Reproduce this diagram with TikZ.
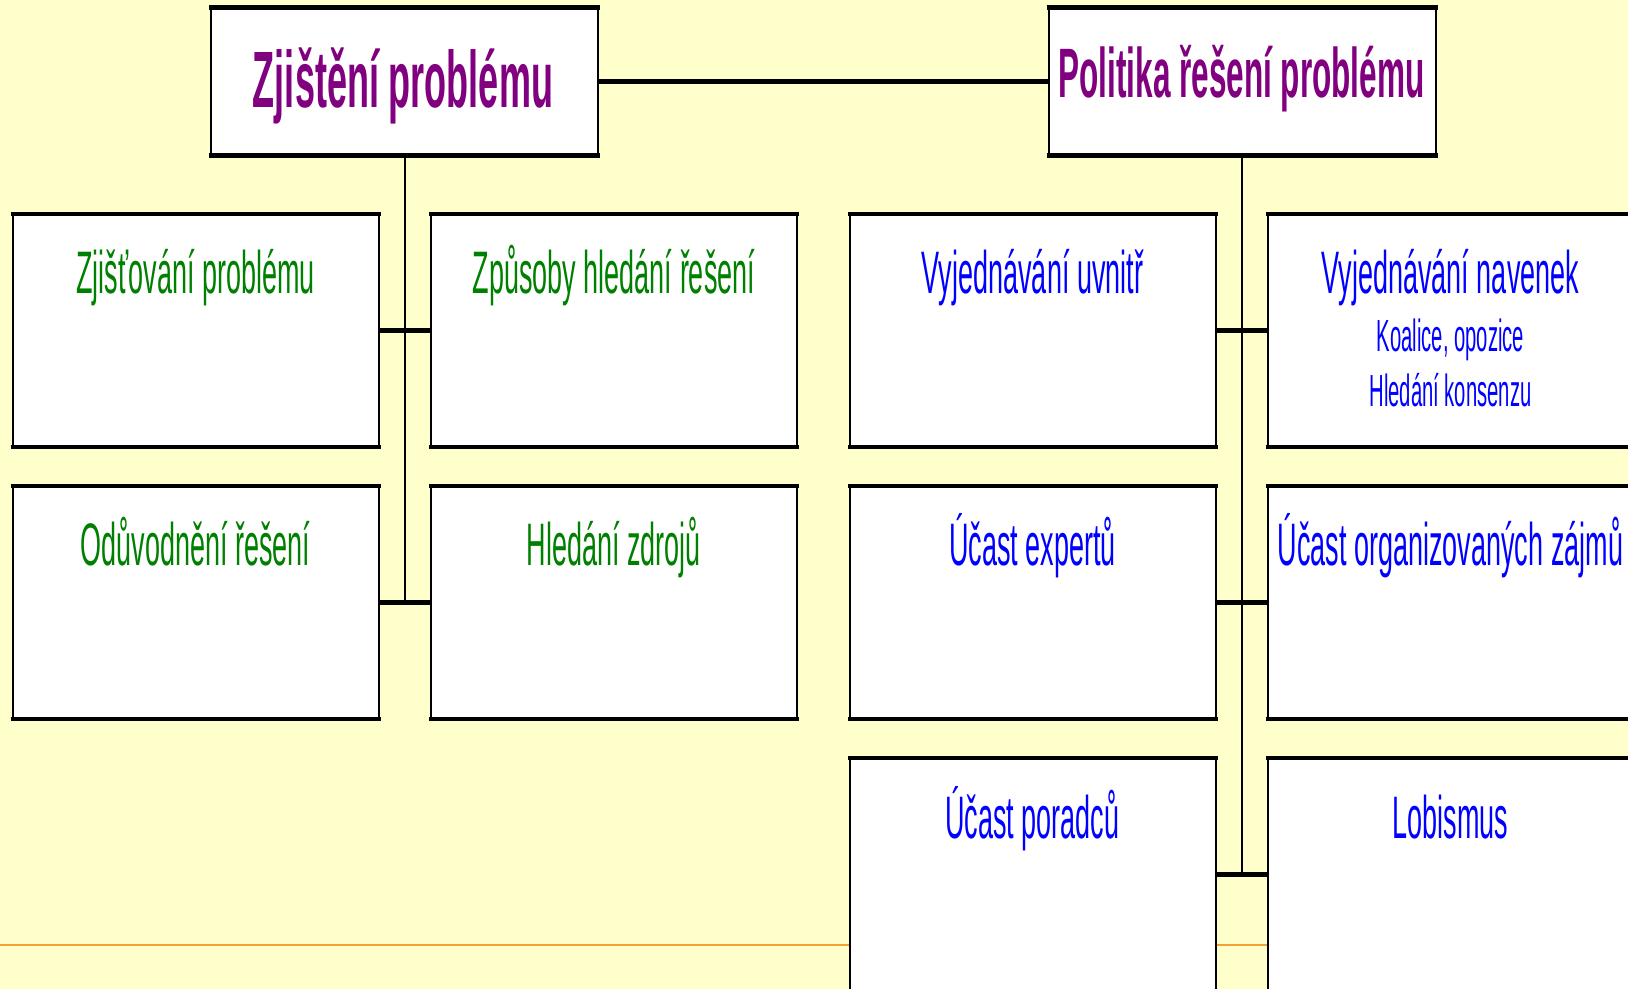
\documentclass[tikz,border=0pt]{standalone}
\usepackage{fontspec}
\newfontfamily\nar[FakeStretch=0.45]{Liberation Sans}
\definecolor{bgyellow}{HTML}{FFFFCC}
\definecolor{ttlpurple}{HTML}{800080}
\definecolor{txtgreen}{HTML}{008000}
\definecolor{txtblue}{HTML}{0000FF}
\definecolor{rulorange}{HTML}{F5A030}
\tikzset{
  box/.style={draw=black, line width=1pt, fill=white, rectangle, inner sep=0pt},
  topbox/.style={box, minimum width=193.5pt, minimum height=73pt},
  subbox/.style={box, minimum width=183pt, minimum height=115.5pt},
  edge/.style={draw=black, line width=2.4pt},
  thinline/.style={draw=black, line width=1pt},
  conn/.style={draw=black, line width=2.4pt},
  ttl/.style={anchor=base, text=ttlpurple, font=\nar\bfseries},
  gtxt/.style={anchor=base, text=txtgreen, font=\nar\fontsize{30pt}{36pt}\selectfont},
  btxt/.style={anchor=base, text=txtblue, font=\nar\fontsize{30pt}{36pt}\selectfont},
  bsmall/.style={anchor=base, text=txtblue, font=\nar\fontsize{22.5pt}{27pt}\selectfont},
}
\begin{document}
\begin{tikzpicture}[x=0.5pt, y=-0.5pt]
\path[use as bounding box, fill=bgyellow] (0,0) rectangle (1628,989);
\clip (0,0) rectangle (1628,989);
% orange rule
\draw[rulorange, line width=0.8pt] (0,945) -- (1628,945);
% top boxes
\node[topbox] (tl) at (404.5,81.25) {};
\node[topbox] (tr) at (1242,81.25) {};
% left group
\node[subbox] (l1) at (195.5,330.5) {};
\node[subbox] (l2) at (614,330.5) {};
\node[subbox] (l3) at (195.5,602.5) {};
\node[subbox] (l4) at (614,602.5) {};
% right group
\node[subbox] (r1) at (1032.5,330.5) {};
\node[subbox] (r2) at (1450.5,330.5) {};
\node[subbox] (r3) at (1032.5,602.5) {};
\node[subbox] (r4) at (1450.5,602.5) {};
\node[subbox] (r5) at (1032.5,874.5) {};
\node[subbox] (r6) at (1450.5,874.5) {};
% thick top and bottom edges
\foreach \b in {tl,tr,l1,l2,l3,l4,r1,r2,r3,r4,r5,r6}{
  \draw[edge] ([xshift=-0.5pt]\b.north west) -- ([xshift=0.5pt]\b.north east);
  \draw[edge] ([xshift=-0.5pt]\b.south west) -- ([xshift=0.5pt]\b.south east);
}
% connectors
\draw[conn] (tl.east) -- (tr.west);
\coordinate (lj) at (tl.south |- l3.east);
\coordinate (rj) at (tr.south |- r5.east);
\draw[thinline] (tl.south) -- (lj);
\draw[thinline] (tr.south) -- (rj);
\draw[conn] (l1.east) -- (l2.west);
\draw[conn] (l3.east) -- (l4.west);
\draw[conn] (r1.east) -- (r2.west);
\draw[conn] (r3.east) -- (r4.west);
\draw[conn] (r5.east) -- (r6.west);
% texts
\node[ttl, font=\nar\bfseries\fontsize{40pt}{48pt}\selectfont] (tlt) at (403,108) {Zjištění problému};
\node[ttl, font=\nar\bfseries\fontsize{35pt}{42pt}\selectfont] (trt) at (1241.5,98) {Politika řešení problému};
\node[gtxt] (l1t) at (195.5,294) {Zjišťování problému};
\node[gtxt] (l2t) at (614,294) {Způsoby hledání řešení};
\node[gtxt] (l3t) at (195.5,566) {Odůvodnění řešení};
\node[gtxt] (l4t) at (614,566) {Hledání zdrojů};
\node[btxt] (r1t) at (1032.5,294) {Vyjednávání uvnitř};
\node[btxt] (r2t) at (1450.5,294) {Vyjednávání navenek};
\node[bsmall] (r2a) at (1450.5,352) {Koalice, opozice};
\node[bsmall] (r2b) at (1450.5,407) {Hledání konsenzu};
\node[btxt] (r3t) at (1032.5,566) {Účast expertů};
\node[btxt] (r4t) at (1450.5,566) {Účast organizovaných zájmů};
\node[btxt] (r5t) at (1032.5,838) {Účast poradců};
\node[btxt] (r6t) at (1450.5,838) {Lobismus};
\end{tikzpicture}
\end{document}
